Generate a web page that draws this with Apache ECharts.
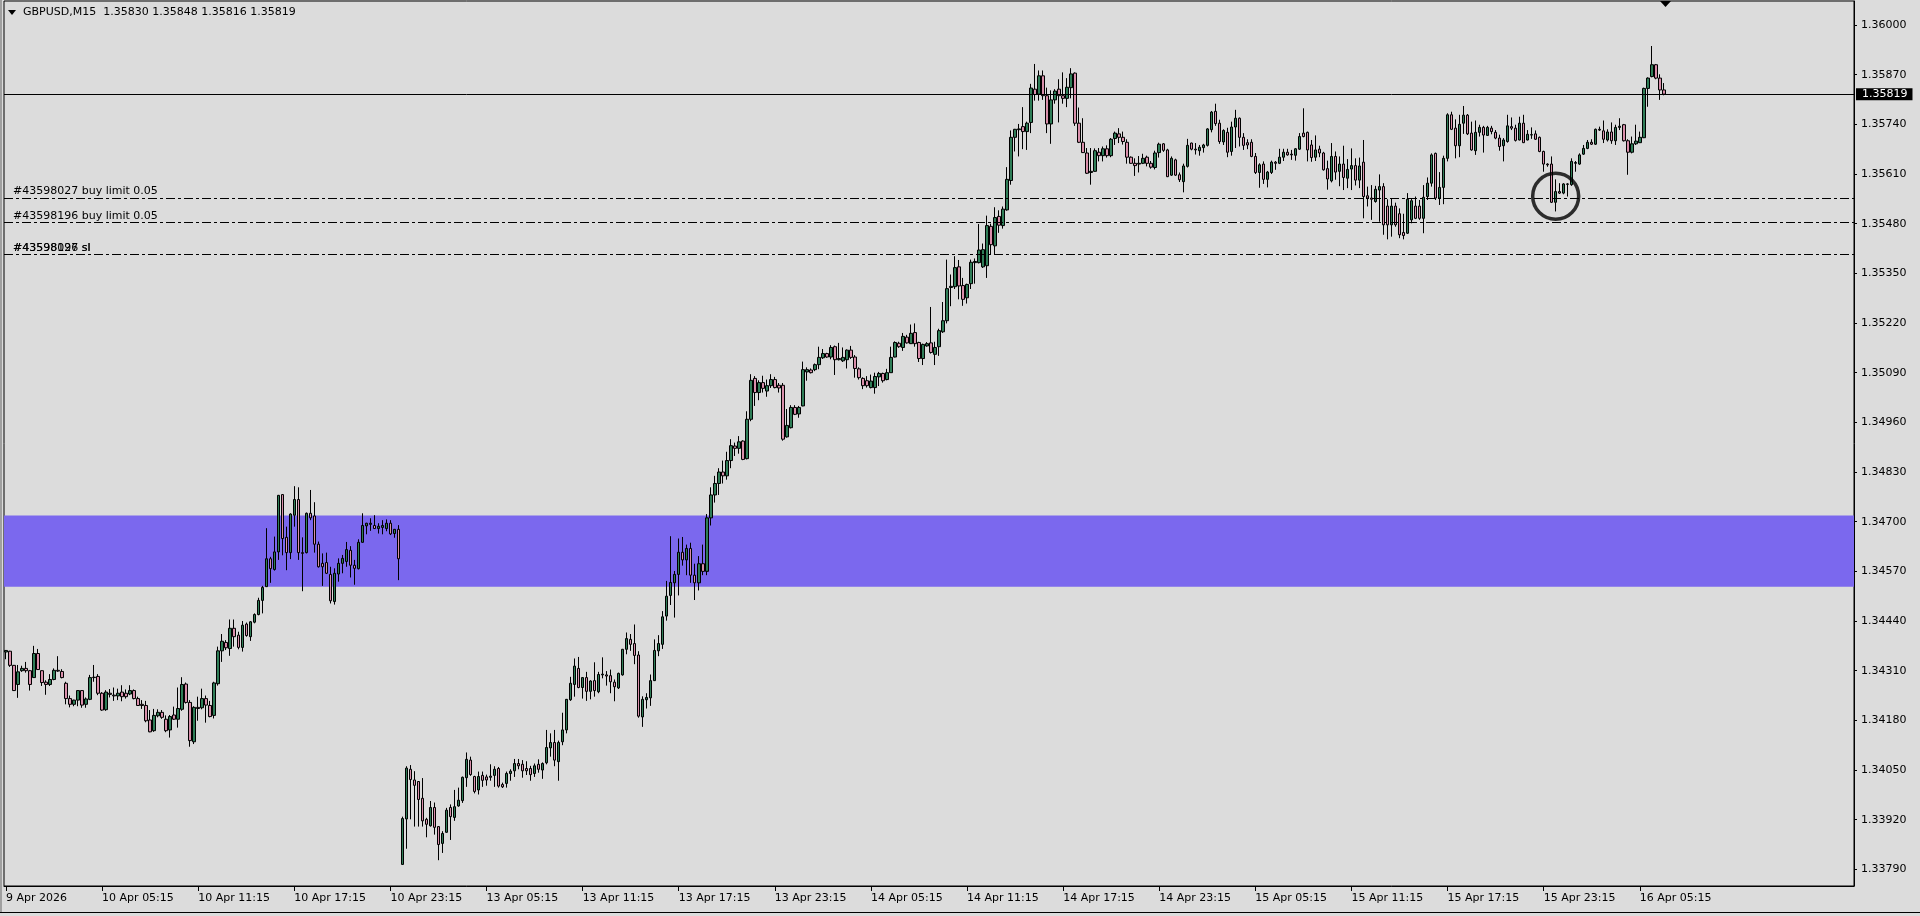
<!DOCTYPE html>
<html><head><meta charset="utf-8">
<script src="https://cdn.jsdelivr.net/npm/echarts@6/dist/echarts.min.js"></script>
<style>html,body{margin:0;padding:0;background:#dcdcdc;overflow:hidden}#c{width:1920px;height:916px}</style>
</head><body><div id="c"></div>
<script>
const headerText = 'GBPUSD,M15  1.35830 1.35848 1.35816 1.35819';
const tickLabels = ['9 Apr 2026','10 Apr 05:15','10 Apr 11:15','10 Apr 17:15','10 Apr 23:15','13 Apr 05:15','13 Apr 11:15','13 Apr 17:15','13 Apr 23:15','14 Apr 05:15','14 Apr 11:15','14 Apr 17:15','14 Apr 23:15','15 Apr 05:15','15 Apr 11:15','15 Apr 17:15','15 Apr 23:15','16 Apr 05:15'];
const priceTicks = [1.33790,1.33920,1.34050,1.34180,1.34310,1.34440,1.34570,1.34700,1.34830,1.34960,1.35090,1.35220,1.35350,1.35480,1.35610,1.35740,1.35870,1.36000];

const open = [
1.34359,1.34361,1.34324,1.34274,1.34310,1.34316,1.34310,1.34292,1.34355,1.34310,
1.34280,1.34274,1.34287,1.34311,1.34308,1.34277,1.34237,1.34222,1.34233,1.34258,
1.34222,1.34235,1.34292,1.34295,1.34251,1.34208,1.34251,1.34246,1.34244,1.34254,
1.34251,1.34249,1.34258,1.34237,1.34222,1.34219,1.34181,1.34153,1.34192,1.34201,
1.34183,1.34155,1.34194,1.34183,1.34209,1.34275,1.34227,1.34124,1.34214,1.34213,
1.34237,1.34219,1.34193,1.34276,1.34362,1.34384,1.34368,1.34421,1.34403,1.34371,
1.34432,1.34399,1.34437,1.34457,1.34494,1.34530,1.34603,1.34575,1.34621,1.34771,
1.34659,1.34619,1.34717,1.34758,1.34619,1.34619,1.34722,1.34715,1.34641,1.34591,
1.34593,1.34562,1.34491,1.34563,1.34591,1.34596,1.34625,1.34586,1.34577,1.34646,
1.34689,1.34693,1.34690,1.34682,1.34685,1.34682,1.34696,1.34669,1.34680,1.33803,
1.33922,1.34052,1.34024,1.34020,1.33976,1.33921,1.33904,1.33952,1.33902,1.33858,
1.33887,1.33952,1.33926,1.33956,1.33970,1.34030,1.34076,1.34033,1.33998,1.34036,
1.34032,1.34031,1.34036,1.34054,1.34012,1.34015,1.34041,1.34048,1.34067,1.34065,
1.34054,1.34054,1.34041,1.34065,1.34050,1.34069,1.34108,1.34122,1.34072,1.34124,
1.34155,1.34234,1.34274,1.34316,1.34266,1.34292,1.34256,1.34284,1.34255,1.34299,
1.34299,1.34297,1.34280,1.34265,1.34299,1.34366,1.34392,1.34381,1.34351,1.34189,
1.34234,1.34239,1.34284,1.34362,1.34379,1.34453,1.34507,1.34540,1.34562,1.34620,
1.34600,1.34630,1.34560,1.34540,1.34590,1.34570,1.34710,1.34770,1.34800,1.34830,
1.34820,1.34860,1.34898,1.34892,1.34911,1.34865,1.34968,1.35075,1.35038,1.35064,
1.35042,1.35056,1.35072,1.35057,1.35057,1.34922,1.34946,1.34999,1.34982,1.35003,
1.35092,1.35097,1.35098,1.35111,1.35129,1.35140,1.35131,1.35158,1.35124,1.35121,
1.35124,1.35149,1.35131,1.35100,1.35075,1.35069,1.35051,1.35051,1.35079,1.35088,
1.35072,1.35090,1.35131,1.35167,1.35156,1.35183,1.35166,1.35195,1.35169,1.35127,
1.35160,1.35168,1.35138,1.35158,1.35197,1.35226,1.35313,1.35315,1.35367,1.35318,
1.35286,1.35323,1.35378,1.35378,1.35367,1.35370,1.35473,1.35422,1.35499,1.35475,
1.35516,1.35593,1.35706,1.35726,1.35734,1.35721,1.35745,1.35832,1.35819,1.35867,
1.35815,1.35741,1.35804,1.35832,1.35815,1.35808,1.35836,1.35874,1.35743,1.35693,
1.35665,1.35614,1.35617,1.35667,1.35658,1.35676,1.35658,1.35703,1.35715,1.35706,
1.35693,1.35654,1.35638,1.35636,1.35638,1.35654,1.35638,1.35627,1.35666,1.35689,
1.35673,1.35607,1.35647,1.35608,1.35590,1.35630,1.35691,1.35675,1.35671,1.35679,
1.35685,1.35726,1.35774,1.35743,1.35694,1.35719,1.35669,1.35733,1.35756,1.35706,
1.35692,1.35693,1.35656,1.35614,1.35636,1.35596,1.35614,1.35641,1.35638,1.35654,
1.35667,1.35660,1.35659,1.35675,1.35717,1.35719,1.35686,1.35654,1.35675,1.35665,
1.35624,1.35592,1.35656,1.35617,1.35636,1.35599,1.35623,1.35632,1.35594,1.35641,
1.35553,1.35547,1.35538,1.35568,1.35577,1.35526,1.35477,1.35526,1.35506,1.35457,
1.35455,1.35490,1.35526,1.35526,1.35494,1.35551,1.35586,1.35664,1.35547,1.35575,
1.35651,1.35765,1.35730,1.35684,1.35743,1.35764,1.35717,1.35671,1.35719,1.35732,
1.35711,1.35730,1.35719,1.35704,1.35684,1.35695,1.35734,1.35730,1.35699,1.35743,
1.35699,1.35712,1.35715,1.35706,1.35669,1.35636,1.35636,1.35536,1.35564,1.35560,
1.35583,1.35582,1.35638,1.35636,1.35662,1.35677,1.35693,1.35688,1.35727,1.35723,
1.35699,1.35720,1.35697,1.35732,1.35739,1.35697,1.35667,1.35689,1.35692,1.35705,
1.35834,1.35865,1.35896,1.35861,1.35830];

const high = [
1.34364,1.34362,1.34325,1.34325,1.34323,1.34333,1.34312,1.34375,1.34367,1.34311,
1.34285,1.34301,1.34316,1.34348,1.34314,1.34281,1.34245,1.34234,1.34259,1.34259,
1.34240,1.34299,1.34325,1.34301,1.34254,1.34259,1.34262,1.34266,1.34263,1.34272,
1.34261,1.34272,1.34261,1.34242,1.34233,1.34231,1.34207,1.34210,1.34209,1.34207,
1.34193,1.34194,1.34216,1.34266,1.34293,1.34279,1.34233,1.34217,1.34242,1.34263,
1.34245,1.34231,1.34281,1.34373,1.34406,1.34390,1.34444,1.34444,1.34412,1.34440,
1.34436,1.34440,1.34460,1.34501,1.34532,1.34683,1.34608,1.34661,1.34770,1.34772,
1.34687,1.34722,1.34793,1.34790,1.34659,1.34724,1.34783,1.34751,1.34648,1.34617,
1.34619,1.34582,1.34578,1.34604,1.34613,1.34647,1.34636,1.34600,1.34654,1.34722,
1.34697,1.34709,1.34717,1.34696,1.34704,1.34706,1.34704,1.34681,1.34691,1.33928,
1.34060,1.34063,1.34047,1.34021,1.34029,1.33925,1.33969,1.33965,1.33903,1.33890,
1.33951,1.33960,1.33998,1.34004,1.34033,1.34096,1.34085,1.34035,1.34046,1.34046,
1.34038,1.34065,1.34060,1.34058,1.34017,1.34046,1.34052,1.34079,1.34079,1.34076,
1.34073,1.34061,1.34067,1.34078,1.34070,1.34155,1.34146,1.34155,1.34127,1.34200,
1.34236,1.34294,1.34342,1.34346,1.34293,1.34307,1.34285,1.34332,1.34307,1.34345,
1.34309,1.34313,1.34287,1.34305,1.34367,1.34410,1.34406,1.34431,1.34361,1.34243,
1.34251,1.34300,1.34392,1.34403,1.34466,1.34545,1.34662,1.34571,1.34656,1.34660,
1.34640,1.34645,1.34590,1.34610,1.34640,1.34720,1.34790,1.34820,1.34840,1.34860,
1.34883,1.34916,1.34907,1.34924,1.34913,1.34989,1.35086,1.35081,1.35070,1.35082,
1.35072,1.35086,1.35079,1.35063,1.35063,1.34995,1.35005,1.35005,1.35003,1.35119,
1.35104,1.35101,1.35114,1.35158,1.35152,1.35142,1.35162,1.35161,1.35168,1.35156,
1.35151,1.35160,1.35136,1.35104,1.35078,1.35081,1.35085,1.35090,1.35092,1.35090,
1.35100,1.35158,1.35172,1.35171,1.35194,1.35189,1.35216,1.35219,1.35171,1.35166,
1.35170,1.35262,1.35171,1.35205,1.35275,1.35386,1.35347,1.35395,1.35385,1.35338,
1.35323,1.35386,1.35389,1.35479,1.35428,1.35501,1.35480,1.35523,1.35515,1.35525,
1.35628,1.35724,1.35728,1.35741,1.35785,1.35747,1.35846,1.35898,1.35881,1.35881,
1.35836,1.35829,1.35832,1.35858,1.35876,1.35861,1.35887,1.35876,1.35784,1.35756,
1.35678,1.35678,1.35677,1.35678,1.35682,1.35685,1.35704,1.35721,1.35730,1.35721,
1.35701,1.35656,1.35651,1.35657,1.35663,1.35658,1.35644,1.35671,1.35692,1.35691,
1.35676,1.35656,1.35650,1.35614,1.35637,1.35702,1.35692,1.35691,1.35686,1.35689,
1.35730,1.35775,1.35794,1.35752,1.35727,1.35731,1.35747,1.35778,1.35758,1.35717,
1.35701,1.35701,1.35665,1.35638,1.35643,1.35618,1.35645,1.35644,1.35676,1.35676,
1.35676,1.35673,1.35678,1.35717,1.35782,1.35721,1.35699,1.35711,1.35684,1.35668,
1.35645,1.35691,1.35669,1.35656,1.35684,1.35649,1.35677,1.35651,1.35653,1.35699,
1.35577,1.35581,1.35579,1.35609,1.35586,1.35544,1.35547,1.35535,1.35520,1.35506,
1.35560,1.35547,1.35551,1.35542,1.35581,1.35601,1.35664,1.35666,1.35615,1.35658,
1.35769,1.35773,1.35753,1.35765,1.35788,1.35767,1.35747,1.35750,1.35739,1.35736,
1.35736,1.35736,1.35725,1.35713,1.35704,1.35765,1.35758,1.35739,1.35760,1.35765,
1.35725,1.35732,1.35724,1.35708,1.35671,1.35638,1.35656,1.35596,1.35586,1.35586,
1.35586,1.35651,1.35644,1.35664,1.35686,1.35699,1.35701,1.35729,1.35734,1.35750,
1.35727,1.35745,1.35739,1.35756,1.35741,1.35701,1.35708,1.35739,1.35721,1.35836,
1.35863,1.35945,1.35898,1.35871,1.35848];

const low = [
1.34340,1.34320,1.34257,1.34239,1.34307,1.34305,1.34258,1.34291,1.34312,1.34270,
1.34247,1.34270,1.34285,1.34307,1.34290,1.34222,1.34214,1.34217,1.34217,1.34213,
1.34213,1.34233,1.34281,1.34246,1.34205,1.34205,1.34240,1.34231,1.34233,1.34230,
1.34237,1.34246,1.34235,1.34218,1.34210,1.34175,1.34149,1.34150,1.34188,1.34184,
1.34149,1.34135,1.34181,1.34161,1.34205,1.34224,1.34111,1.34118,1.34179,1.34209,
1.34174,1.34188,1.34185,1.34271,1.34333,1.34364,1.34349,1.34373,1.34366,1.34360,
1.34399,1.34388,1.34434,1.34455,1.34460,1.34529,1.34540,1.34572,1.34600,1.34612,
1.34573,1.34602,1.34687,1.34600,1.34518,1.34617,1.34704,1.34619,1.34580,1.34532,
1.34563,1.34486,1.34483,1.34543,1.34565,1.34582,1.34554,1.34535,1.34575,1.34645,
1.34667,1.34676,1.34681,1.34669,1.34667,1.34675,1.34665,1.34658,1.34547,1.33802,
1.33844,1.33921,1.33902,1.33902,1.33902,1.33874,1.33902,1.33881,1.33814,1.33833,
1.33886,1.33867,1.33917,1.33954,1.33964,1.34006,1.34035,1.33989,1.33986,1.34006,
1.34009,1.34022,1.34006,1.34004,1.34003,1.34004,1.34022,1.34032,1.34052,1.34030,
1.34037,1.34022,1.34032,1.34043,1.34027,1.34065,1.34085,1.34060,1.34022,1.34115,
1.34146,1.34231,1.34242,1.34264,1.34237,1.34231,1.34235,1.34242,1.34251,1.34290,
1.34271,1.34251,1.34230,1.34262,1.34297,1.34353,1.34362,1.34327,1.34187,1.34163,
1.34211,1.34218,1.34283,1.34348,1.34367,1.34441,1.34482,1.34449,1.34507,1.34585,
1.34560,1.34540,1.34495,1.34520,1.34560,1.34560,1.34690,1.34750,1.34770,1.34800,
1.34810,1.34840,1.34872,1.34878,1.34861,1.34863,1.34963,1.35003,1.35018,1.35038,
1.35027,1.35050,1.35049,1.35038,1.34912,1.34920,1.34944,1.34979,1.34972,1.35002,
1.35069,1.35088,1.35094,1.35099,1.35126,1.35129,1.35125,1.35084,1.35122,1.35118,
1.35101,1.35126,1.35077,1.35072,1.35047,1.35051,1.35049,1.35035,1.35055,1.35064,
1.35070,1.35090,1.35130,1.35155,1.35147,1.35166,1.35165,1.35158,1.35118,1.35110,
1.35158,1.35140,1.35110,1.35134,1.35194,1.35219,1.35264,1.35309,1.35282,1.35265,
1.35271,1.35309,1.35323,1.35376,1.35364,1.35338,1.35400,1.35400,1.35456,1.35467,
1.35514,1.35582,1.35669,1.35656,1.35675,1.35673,1.35717,1.35802,1.35802,1.35804,
1.35717,1.35689,1.35794,1.35745,1.35794,1.35785,1.35808,1.35736,1.35691,1.35665,
1.35610,1.35582,1.35616,1.35643,1.35643,1.35653,1.35654,1.35686,1.35691,1.35687,
1.35637,1.35637,1.35605,1.35614,1.35636,1.35630,1.35624,1.35622,1.35653,1.35668,
1.35602,1.35605,1.35605,1.35589,1.35562,1.35627,1.35672,1.35661,1.35658,1.35666,
1.35682,1.35719,1.35736,1.35689,1.35686,1.35654,1.35658,1.35678,1.35682,1.35673,
1.35675,1.35654,1.35610,1.35574,1.35584,1.35575,1.35610,1.35621,1.35636,1.35644,
1.35658,1.35647,1.35645,1.35673,1.35706,1.35643,1.35642,1.35644,1.35654,1.35619,
1.35569,1.35588,1.35595,1.35578,1.35568,1.35573,1.35568,1.35580,1.35573,1.35494,
1.35525,1.35490,1.35535,1.35485,1.35451,1.35439,1.35446,1.35472,1.35442,1.35439,
1.35453,1.35481,1.35492,1.35490,1.35455,1.35542,1.35577,1.35542,1.35529,1.35531,
1.35643,1.35725,1.35651,1.35654,1.35715,1.35712,1.35671,1.35660,1.35708,1.35666,
1.35710,1.35714,1.35701,1.35671,1.35643,1.35692,1.35725,1.35695,1.35698,1.35691,
1.35698,1.35702,1.35699,1.35667,1.35616,1.35629,1.35534,1.35512,1.35558,1.35557,
1.35551,1.35579,1.35616,1.35634,1.35660,1.35675,1.35686,1.35686,1.35723,1.35691,
1.35695,1.35689,1.35686,1.35725,1.35695,1.35608,1.35664,1.35686,1.35691,1.35704,
1.35786,1.35863,1.35858,1.35804,1.35816];

const close = [
1.34363,1.34324,1.34258,1.34307,1.34316,1.34310,1.34274,1.34355,1.34313,1.34279,
1.34274,1.34287,1.34311,1.34309,1.34292,1.34237,1.34222,1.34233,1.34258,1.34220,
1.34236,1.34292,1.34293,1.34251,1.34207,1.34254,1.34248,1.34244,1.34251,1.34242,
1.34242,1.34258,1.34237,1.34219,1.34219,1.34179,1.34150,1.34193,1.34201,1.34188,
1.34153,1.34190,1.34183,1.34211,1.34274,1.34227,1.34127,1.34214,1.34211,1.34237,
1.34220,1.34190,1.34278,1.34362,1.34387,1.34370,1.34421,1.34399,1.34371,1.34429,
1.34402,1.34438,1.34457,1.34494,1.34528,1.34603,1.34577,1.34621,1.34769,1.34656,
1.34619,1.34720,1.34758,1.34619,1.34617,1.34722,1.34710,1.34641,1.34582,1.34582,
1.34565,1.34493,1.34565,1.34591,1.34604,1.34627,1.34586,1.34578,1.34646,1.34690,
1.34696,1.34696,1.34682,1.34688,1.34690,1.34696,1.34668,1.34680,1.34603,1.33923,
1.34055,1.34025,1.34010,1.33973,1.33917,1.33908,1.33952,1.33900,1.33855,1.33884,
1.33945,1.33928,1.33954,1.33971,1.34031,1.34078,1.34038,1.33994,1.34033,1.34023,
1.34024,1.34034,1.34052,1.34008,1.34006,1.34041,1.34047,1.34067,1.34061,1.34048,
1.34048,1.34038,1.34061,1.34052,1.34067,1.34109,1.34122,1.34076,1.34122,1.34155,
1.34235,1.34277,1.34322,1.34266,1.34292,1.34256,1.34283,1.34258,1.34300,1.34301,
1.34296,1.34281,1.34268,1.34303,1.34366,1.34394,1.34379,1.34350,1.34191,1.34235,
1.34240,1.34284,1.34363,1.34381,1.34451,1.34505,1.34541,1.34562,1.34620,1.34600,
1.34630,1.34560,1.34540,1.34590,1.34570,1.34710,1.34770,1.34800,1.34830,1.34820,
1.34860,1.34899,1.34892,1.34909,1.34863,1.34968,1.35070,1.35038,1.35064,1.35049,
1.35056,1.35072,1.35051,1.35050,1.34916,1.34952,1.34999,1.34981,1.34999,1.35098,
1.35098,1.35090,1.35111,1.35130,1.35140,1.35131,1.35156,1.35124,1.35127,1.35130,
1.35149,1.35130,1.35101,1.35077,1.35056,1.35056,1.35068,1.35080,1.35088,1.35069,
1.35090,1.35130,1.35169,1.35158,1.35185,1.35168,1.35193,1.35166,1.35127,1.35164,
1.35166,1.35143,1.35156,1.35200,1.35226,1.35310,1.35316,1.35365,1.35317,1.35282,
1.35321,1.35379,1.35381,1.35411,1.35412,1.35475,1.35425,1.35496,1.35476,1.35518,
1.35596,1.35706,1.35727,1.35728,1.35721,1.35743,1.35835,1.35818,1.35867,1.35815,
1.35741,1.35804,1.35827,1.35815,1.35808,1.35837,1.35872,1.35743,1.35693,1.35666,
1.35612,1.35617,1.35671,1.35658,1.35676,1.35658,1.35701,1.35717,1.35706,1.35695,
1.35654,1.35638,1.35632,1.35638,1.35651,1.35638,1.35628,1.35665,1.35688,1.35672,
1.35603,1.35651,1.35607,1.35595,1.35631,1.35685,1.35675,1.35673,1.35680,1.35686,
1.35728,1.35772,1.35742,1.35695,1.35724,1.35667,1.35733,1.35756,1.35706,1.35685,
1.35686,1.35656,1.35614,1.35634,1.35596,1.35615,1.35641,1.35638,1.35654,1.35667,
1.35660,1.35662,1.35676,1.35708,1.35708,1.35673,1.35653,1.35673,1.35665,1.35621,
1.35597,1.35656,1.35615,1.35636,1.35601,1.35622,1.35632,1.35594,1.35631,1.35551,
1.35547,1.35544,1.35570,1.35577,1.35477,1.35477,1.35526,1.35477,1.35451,1.35449,
1.35544,1.35540,1.35494,1.35494,1.35549,1.35586,1.35660,1.35547,1.35575,1.35651,
1.35765,1.35727,1.35684,1.35740,1.35764,1.35715,1.35673,1.35719,1.35732,1.35712,
1.35732,1.35721,1.35704,1.35682,1.35699,1.35736,1.35730,1.35698,1.35743,1.35692,
1.35714,1.35713,1.35701,1.35669,1.35636,1.35634,1.35536,1.35564,1.35560,1.35584,
1.35584,1.35643,1.35640,1.35660,1.35677,1.35693,1.35688,1.35727,1.35725,1.35701,
1.35720,1.35697,1.35732,1.35735,1.35697,1.35667,1.35689,1.35696,1.35706,1.35834,
1.35861,1.35896,1.35861,1.35830,1.35819];

const bidPrice = 1.35819;
const orderLabels = ['#43598027 buy limit 0.05','#43598196 buy limit 0.05','#43598027 sl','#43598196 sl'];
const orderPrices = [1.35547, 1.35483, 1.35400, 1.35400];
const zoneBounds = [1.34530, 1.34716];
const circleMark = [387, 1.35552];

const SLOTS = 462; // visible bar slots (includes chart shift space)
const categories = [];
for (let i = 0; i < SLOTS; i++) categories.push(String(i));
const ohlc = open.map((o, i) => [o, close[i], low[i], high[i]]);
const FONT = '"DejaVu Sans", Verdana, sans-serif';
const showTick = (i) => i % 24 === 0 && i < open.length;

const chart = echarts.init(document.getElementById('c'), null, {renderer: 'canvas'});
const orderLines = orderPrices.map((p, k) => ({
  yAxis: p,
  lineStyle: {type: [9, 3, 3, 3], color: '#000', width: 1},
  label: {show: true, position: 'insideStartTop', formatter: orderLabels[k], distance: [9, 1],
          color: '#000', fontFamily: FONT, fontSize: 11}
}));
chart.setOption({
  animation: false,
  backgroundColor: '#dcdcdc',
  grid: {left: 4, top: 1, width: 1850, height: 885, show: true, borderColor: '#000', borderWidth: 1, backgroundColor: 'transparent'},
  xAxis: {
    type: 'category', data: categories, boundaryGap: true,
    axisLine: {show: true, lineStyle: {color: '#000', width: 1}},
    axisTick: {show: true, alignWithLabel: true, length: 5, interval: showTick, lineStyle: {color: '#000'}},
    axisLabel: {show: true, interval: showTick, align: 'left', margin: 7, color: '#000', fontFamily: FONT, fontSize: 11,
                formatter: (v, i) => tickLabels[i / 24]},
    splitLine: {show: false}
  },
  yAxis: {
    type: 'value', position: 'right', min: 1.337465, max: 1.360628,
    axisLine: {show: true, lineStyle: {color: '#000'}},
    axisTick: {show: true, length: 3, customValues: priceTicks, lineStyle: {color: '#000'}},
    axisLabel: {show: true, customValues: priceTicks, margin: 7, color: '#000', fontFamily: FONT, fontSize: 11,
                formatter: (v) => Number(v).toFixed(5)},
    splitLine: {show: false}
  },
  series: [
    {
      type: 'candlestick', data: ohlc, barWidth: 3, z: 3,
      itemStyle: {color: '#2f7d57', color0: '#d98fab', borderColor: '#000', borderColor0: '#000', borderColorDoji: '#000', borderWidth: 1},
      markArea: {silent: true, z: 1, itemStyle: {color: '#7b68ee', opacity: 1},
                 data: [[{yAxis: zoneBounds[0]}, {yAxis: zoneBounds[1]}]]},
      markLine: {silent: true, symbol: ['none', 'none'], precision: 5, animation: false,
        data: [
          {yAxis: bidPrice, lineStyle: {type: 'solid', color: '#000', width: 1},
           label: {show: true, position: 'end', formatter: bidPrice.toFixed(5), distance: 2,
                   backgroundColor: '#000', color: '#fff', padding: [1, 5, 0, 6], fontFamily: FONT, fontSize: 11}}
        ].concat(orderLines)
      }
    },
    {
      type: 'scatter', data: [circleMark], symbol: 'circle', symbolSize: 46, z: 6, silent: true,
      itemStyle: {color: 'rgba(0,0,0,0)', borderColor: '#000', borderWidth: 3.5}
    }
  ],
  graphic: [
    {type: 'rect', shape: {x: 0, y: 0, width: 2, height: 912}, style: {fill: '#a0a0a0'}, silent: true},
    {type: 'polygon', shape: {points: [[8, 10], [16, 10], [12, 15]]}, style: {fill: '#000'}, silent: true},
    {type: 'text', left: 23, top: 7, style: {text: headerText, fill: '#000', font: '11px ' + FONT}, silent: true},
    {type: 'polygon', shape: {points: [[1660, 1], [1671, 1], [1665.5, 7]]}, style: {fill: '#000'}, silent: true},
    {type: 'rect', shape: {x: 0, y: 912, width: 1920, height: 1}, style: {fill: '#000'}, silent: true}
  ]
});
</script></body></html>
